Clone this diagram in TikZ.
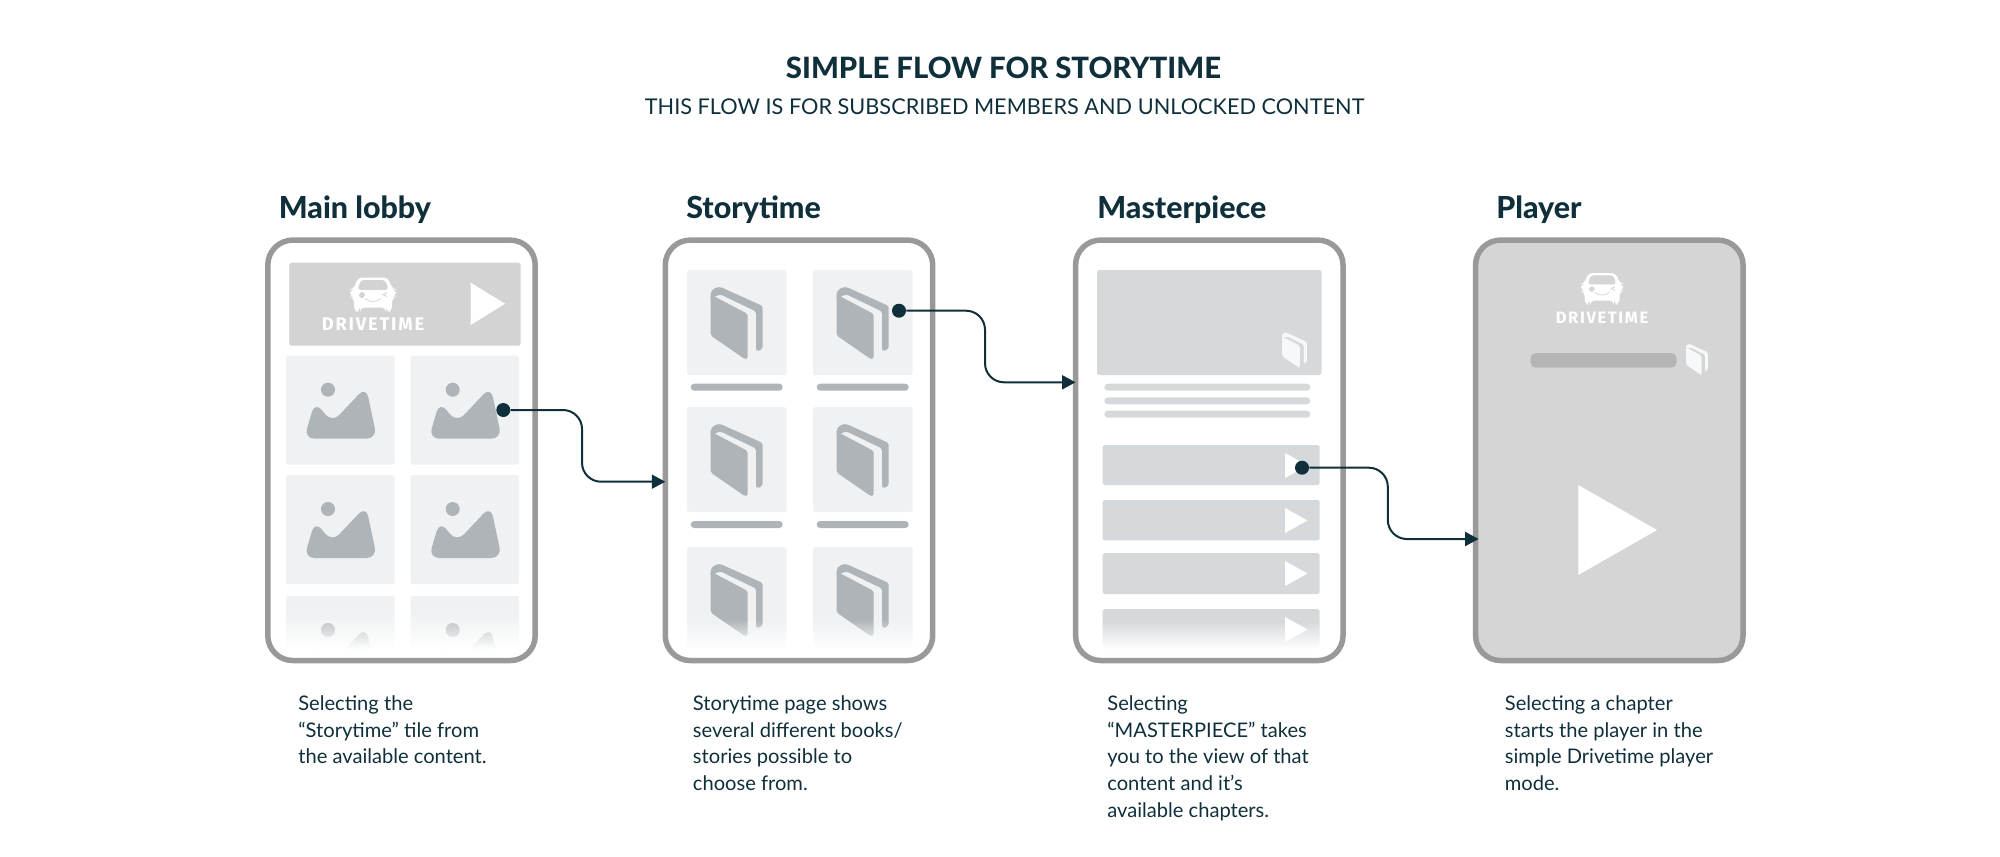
\documentclass[tikz,border=0pt]{standalone}
\usepackage{fontspec}
\usepackage{xcolor}
\usepackage{tikz}
\usetikzlibrary{arrows.meta}
\setmainfont{Lato}
\newfontfamily\headfont{Lato Heavy}
\newfontfamily\logofont[LetterSpace=10]{Fira Sans}
\definecolor{inkblue}{HTML}{0F2F3B}
\definecolor{framegray}{HTML}{999999}
\definecolor{tilegray}{HTML}{EFF1F2}
\definecolor{icongray}{HTML}{AEB4B7}
\definecolor{bannergray}{HTML}{D3D3D3}
\definecolor{panelgray}{HTML}{D6D9DC}
\definecolor{playergray}{HTML}{D5D5D5}
\definecolor{bargray}{HTML}{B5B5B5}
\definecolor{lightbook}{HTML}{F6F9F9}
\newcommand{\fadeout}[3]{
    \foreach \k in {1,...,#3} {
        \pgfmathsetmacro{\fadeval}{\k/#3}
        \fill[white,opacity=\fadeval] (#1,650-#3+\k-1) rectangle (#2,650-#3+\k+.4);
    }
    \fill[white] (#1,650) rectangle (#2,651);
}
\tikzset{
    phonebox/.style={draw=framegray,line width=0.11cm,rounded corners=0.5cm,minimum width=5.35cm,minimum height=8.41cm,outer sep=0pt,inner sep=0pt},
    tilebox/.style={rounded corners=1pt},
    pillbar/.style={rounded corners=2pt},
    flowline/.style={draw=inkblue,line width=0.04cm,rounded corners=0.38cm,-{Triangle[length=0.27cm,width=0.28cm]}},
    flowdot/.style={circle,fill=inkblue,inner sep=0pt,minimum size=0.28cm},
    headtext/.style={anchor=base west,inner sep=0pt,text=inkblue,font=\headfont\fontsize{17.3}{20}\selectfont},
    bodytext/.style={anchor=north west,inner sep=0pt,align=left,text=inkblue,font=\fontsize{11.45}{15.3}\selectfont},
    logotext/.style={anchor=base,inner sep=0pt,text=white},
    bookicon/.pic={
        \fill[pic actions,rounded corners=1pt] (0,12) -- (0,8) .. controls (0,2) and (7,-2) .. (13,1) -- (52,18.5) -- (52,61) -- (46.5,64) -- (45.3,62) -- (45.3,24) -- (10,7) -- (6,8) -- cycle;
        \fill[pic actions,rounded corners=1pt] (0,7) -- (37,26.5) -- (37,71.5) -- (34,71.5) -- (0,48) -- cycle;
    },
    landicon/.pic={
        \fill[pic actions] (42,34) circle (7);
        \fill[pic actions,rounded corners=6pt] (18,83) -- (29,46) -- (46,67) -- (80,31) -- (91,83) -- cycle;
    },
    carlogo/.pic={
        \fill[white,rounded corners=2.5pt] (-15,0) -- (15,0) -- (19.5,12) -- (23,12) -- (23,19) -- (19,20) -- (19,34) -- (13,34) -- (13,30) -- (-13,30) -- (-13,34) -- (-19,34) -- (-19,20) -- (-23,19) -- (-23,12) -- (-19.5,12) -- cycle;
        \fill[pic actions,rounded corners=1.5pt] (-12,3) -- (12,3) -- (15,12) -- (-15,12) -- cycle;
        \fill[pic actions] (-11,17.5) circle (2.5);
        \draw[pic actions,fill=none,line width=0.4pt] (-8,21) .. controls (-3,25) and (3,25) .. (8,21);
        \draw[pic actions,fill=none,line width=0.4pt] (14,15) -- (10,17) -- (14,19);
    }
}
\begin{document}
\begin{tikzpicture}[x=0.02cm,y=-0.02cm]
    \useasboundingbox (0,0) rectangle (2000,856);
    % titles
    \node (maintitle) at (1003.5,68) [inner sep=0pt,text=inkblue,font=\headfont\fontsize{16.7}{19}\selectfont] {SIMPLE FLOW FOR STORYTIME};
    \node (subtitle) at (1004.5,107) [inner sep=0pt,text=inkblue,font=\fontsize{12.35}{16}\selectfont] {THIS FLOW IS FOR SUBSCRIBED MEMBERS AND UNLOCKED CONTENT};
    \node (lobbyhead) at (278.5,218.5) [headtext] {Main lobby};
    \node (storyhead) at (686,218.5) [headtext] {Storytime};
    \node (masterhead) at (1097,218.5) [headtext] {Masterpiece};
    \node (playerhead) at (1496,218.5) [headtext] {Player};
    % the four screens
    \node (lobby) at (401.5,450.3) [phonebox,fill=white] {};
    \node (story) at (799,450.3) [phonebox,fill=white] {};
    \node (master) at (1209.3,450.3) [phonebox,fill=white] {};
    \node (player) at (1609.3,450.3) [phonebox,fill=playergray] {};
    % main lobby
    \fill[bannergray,tilebox] (289.3,262.7) rectangle (520.7,345.7);
    \pic[fill=bannergray,draw=bannergray] at (373,277.5) {carlogo};
    \node (lobbylogo) at (373,330) [logotext,font=\logofont\bfseries\fontsize{10.4}{12}\selectfont] {DRIVETIME};
    \fill[white] (470.7,282.7) -- (505,303.7) -- (470.7,325) -- cycle;
    \foreach \xa in {286,410.7} {
        \foreach \ya in {355.7,475} {
            \fill[tilegray,tilebox] (\xa,\ya) rectangle +(108.5,109);
            \pic[fill=icongray] at (\xa,\ya) {landicon};
        }
        \begin{scope}
            \clip (270,590) rectangle (533,650);
            \fill[tilegray,tilebox] (\xa,596) rectangle +(108.5,70);
            \pic[fill=icongray] at (\xa,596) {landicon};
        \end{scope}
    }
    \fadeout{282}{523}{38}
    % storytime
    \foreach \xa in {687,813} {
        \foreach \ya/\ha in {270/105,407/105,547/103} {
            \fill[tilegray,tilebox] (\xa,\ya) rectangle +(99.5,\ha);
            \pic[fill=icongray] at (\xa+23.7,\ya+17.5) {bookicon};
        }
        \foreach \ya in {383.7,521} {
            \fill[icongray,pillbar] (\xa+3.7,\ya) rectangle +(92,7);
        }
    }
    \fadeout{680}{918}{30}
    % masterpiece
    \fill[panelgray,tilebox] (1097,270) rectangle (1321.6,375);
    \pic[fill=lightbook,scale=.48] at (1282,333) {bookicon};
    \foreach \ya in {383.7,397.3,410.7} {
        \fill[panelgray,pillbar] (1104.3,\ya) rectangle +(206,7);
    }
    \foreach \ya/\ha in {445/40,500/40.3,553/41,609/41} {
        \fill[panelgray,tilebox] (1102.5,\ya) rectangle +(217,\ha);
        \fill[white] (1285,\ya+8) -- (1307.5,\ya+20.5) -- (1285,\ya+33) -- cycle;
    }
    \fadeout{1095}{1326}{28}
    % player
    \pic[fill=playergray,draw=playergray,scale=.92] at (1602,273) {carlogo};
    \node (playerlogo) at (1602,323) [logotext,font=\logofont\bfseries\fontsize{9.4}{11}\selectfont] {DRIVETIME};
    \fill[bargray,rounded corners=3pt] (1530.5,353) rectangle (1676.5,367.7);
    \pic[fill=lightbook,scale=.42] at (1686,344.5) {bookicon};
    \fill[white] (1578.3,485) -- (1657,530) -- (1578.3,575) -- cycle;
    % connectors
    \node (lobbydot) at (503.3,410) [flowdot] {};
    \node (storydot) at (899,310.7) [flowdot] {};
    \node (masterdot) at (1302,467.7) [flowdot] {};
    \coordinate (turnA) at (582,481.7);
    \coordinate (turnB) at (985,382.3);
    \coordinate (turnC) at (1387.8,539);
    \draw[flowline] (lobbydot) -| (turnA) -- (story.west |- turnA);
    \draw[flowline] (storydot) -| (turnB) -- (master.west |- turnB);
    \draw[flowline] (masterdot) -| (turnC) -- ([xshift=0.06cm]player.west |- turnC);
    % captions
    \node (lobbytext) at (298,695) [bodytext] {Selecting the\\``Storytime'' tile from\\the available content.};
    \node (storytext) at (692.6,695) [bodytext] {Storytime page shows\\several different books/\\stories possible to\\choose from.};
    \node (mastertext) at (1107,695) [bodytext] {Selecting\\``MASTERPIECE'' takes\\you to the view of that\\content and it's\\available chapters.};
    \node (playertext) at (1504.5,695) [bodytext] {Selecting a chapter\\starts the player in the\\simple Drivetime player\\mode.};
\end{tikzpicture}
\end{document}
